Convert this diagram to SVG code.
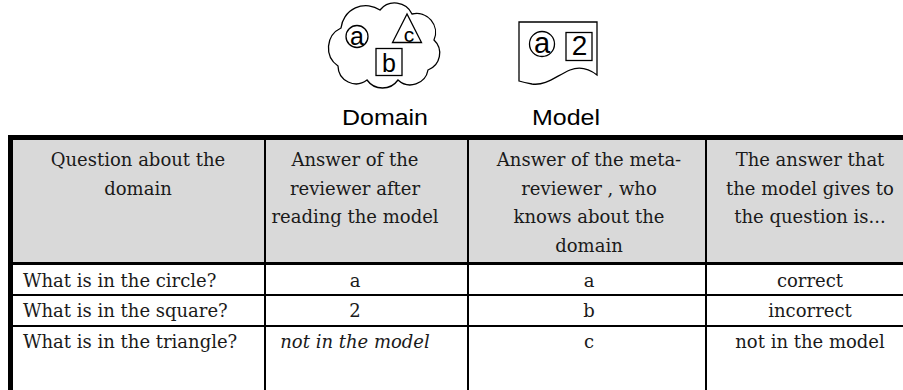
<svg xmlns="http://www.w3.org/2000/svg" width="903" height="390" viewBox="0 0 903 390">
<style>
.ln{fill:none;stroke:#000;stroke-width:1.3}
.ic{font-family:"Liberation Sans",Arial,sans-serif;fill:#000;text-anchor:middle}
.lbl{font-family:"Liberation Sans",Arial,sans-serif;font-size:22px;fill:#000;text-anchor:middle}
.t{font-family:"DejaVu Serif","Liberation Serif",serif;font-size:18px;fill:#1a1a1a}
.c{text-anchor:middle}
.it{font-style:italic}
.grid{stroke:#000;fill:none}
</style>
<rect width="903" height="390" fill="#fff"/>
<g id="domain-icon">
<path class="ln" d="M338,66 A22,22 0 0 1 341,28 A25,25 0 0 1 380,10 A19,19 0 0 1 412,14 A19,19 0 0 1 434,40 A18,18 0 0 1 428,70 A18,18 0 0 1 398,80 A19,19 0 0 1 367,80 A18,18 0 0 1 338,66 Z"/>
<circle class="ln" cx="357" cy="36.5" r="11"/>
<text class="ic" x="357" y="45" font-size="25">a</text>
<path class="ln" d="M407,14 L392.5,42.5 L421.5,42.5 Z"/>
<text class="ic" x="409" y="42" font-size="21">c</text>
<rect class="ln" x="376" y="48.5" width="26" height="27"/>
<text class="ic" x="389" y="72" font-size="25">b</text>
</g>
<g id="model-icon">
<path class="ln" d="M519,22 H597 V75 C588,68 580,66 570,70 C556,76 546,86 532,84 C526,83 522,82 519,81 Z"/>
<circle class="ln" cx="542" cy="44" r="12.5"/>
<text class="ic" x="542" y="53" font-size="29">a</text>
<rect class="ln" x="566" y="32.5" width="26" height="28"/>
<text class="ic" x="579.5" y="55" font-size="28">2</text>
</g>
<g id="labels">
<text class="lbl" x="385" y="125" textLength="86" lengthAdjust="spacingAndGlyphs">Domain</text>
<text class="lbl" x="566" y="125" textLength="68" lengthAdjust="spacingAndGlyphs">Model</text>
</g>
<g id="table">
<rect x="11" y="137.5" width="892" height="126" fill="#d9d9d9"/>
<g class="grid">
<line x1="265" y1="138" x2="265" y2="390" stroke-width="2"/>
<line x1="468" y1="138" x2="468" y2="390" stroke-width="2"/>
<line x1="706" y1="138" x2="706" y2="390" stroke-width="2"/>
<line x1="11" y1="295" x2="903" y2="295" stroke-width="2.2"/>
<line x1="11" y1="326" x2="903" y2="326" stroke-width="2.2"/>
<line x1="11" y1="263.5" x2="903" y2="263.5" stroke-width="3"/>
<line x1="8" y1="137.5" x2="903" y2="137.5" stroke-width="5"/>
<line x1="10.5" y1="135" x2="10.5" y2="390" stroke-width="5"/>
</g>
<g id="header">
<text class="t c" x="138" y="166">Question about the</text>
<text class="t c" x="138" y="194.5">domain</text>
<text class="t c" x="355" y="166">Answer of the</text>
<text class="t c" x="355" y="194.5">reviewer after</text>
<text class="t c" x="355" y="223">reading the model</text>
<text class="t c" x="589" y="166">Answer of the meta-</text>
<text class="t c" x="589" y="194.5">reviewer , who</text>
<text class="t c" x="589" y="223">knows about the</text>
<text class="t c" x="589" y="252">domain</text>
<text class="t c" x="810" y="166">The answer that</text>
<text class="t c" x="810" y="194.5">the model gives to</text>
<text class="t c" x="810" y="223">the question is...</text>
</g>
<g id="rows">
<text class="t" x="23" y="287">What is in the circle?</text>
<text class="t c" x="355" y="287">a</text>
<text class="t c" x="589" y="287">a</text>
<text class="t c" x="810" y="287">correct</text>
<text class="t" x="23" y="317">What is in the square?</text>
<text class="t c" x="355" y="317">2</text>
<text class="t c" x="589" y="317">b</text>
<text class="t c" x="810" y="317">incorrect</text>
<text class="t" x="23" y="348">What is in the triangle?</text>
<text class="t c it" x="355" y="348">not in the model</text>
<text class="t c" x="589" y="348">c</text>
<text class="t c" x="810" y="348">not in the model</text>
</g>
</g>
</svg>
